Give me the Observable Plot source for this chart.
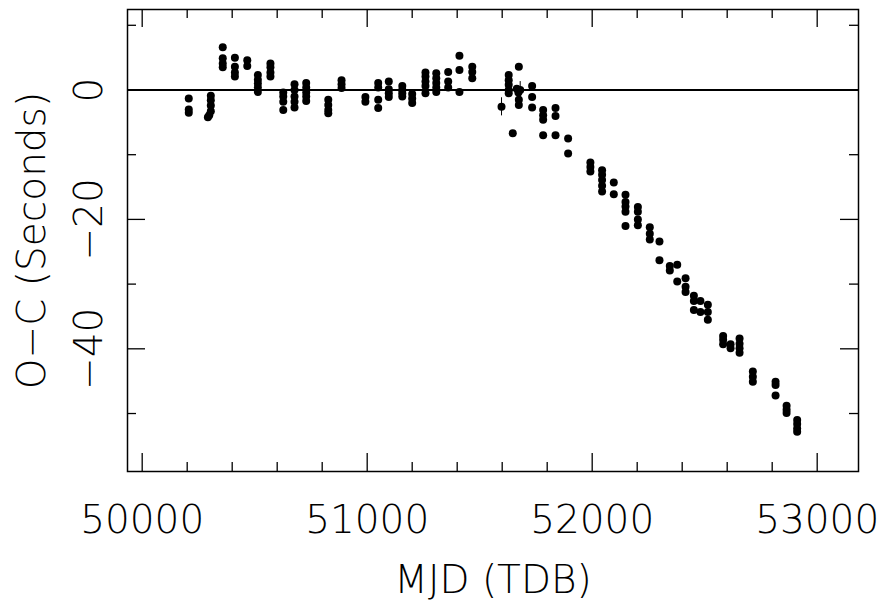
<!DOCTYPE html>
<html><head><meta charset="utf-8">
<script src="https://cdn.jsdelivr.net/npm/d3@7"></script>
<script src="https://cdn.jsdelivr.net/npm/@observablehq/plot@0.6"></script>
<style>body{margin:0;background:#fff}</style>
</head><body><div id="chart"></div>
<script>
// Timing residuals: MJD (TDB) vs O−C (seconds)
const mjd = [
  50207,50207,50207,
  50305,50305,50305,50305,50298,50292,
  50358,50358,50358,50358,
  50412,50412,50412,50412,
  50467,50467,
  50514,50514,50514,50514,50514,
  50570,50570,50570,50570,
  50627,50627,50627,50627,
  50677,50677,50677,50677,50677,
  50729,50729,50729,50729,50729,
  50827,50827,50827,50827,
  50886,50886,50886,
  50992,50992,
  51049,51049,51049,51049,
  51096,51096,51096,51096,
  51156,51156,51156,51156,
  51200,51200,51200,
  51259,51259,51259,51259,51259,
  51307,51307,51307,51307,51307,
  51360,51360,51360,
  51410,51410,51410,
  51467,51467,51467,
  51597,
  51629,51629,51629,51629,51629,
  51647,
  51674,51665,51680,51672,51674,51674,
  51733,51733,51733,
  51782,51782,51782,51782,
  51837,51837,51837,
  51893,51893,
  51992,51992,51992,
  52044,52044,52044,52044,52044,
  52096,52096,
  52148,52148,52148,52148,52148,
  52203,52203,52203,52203,
  52256,52256,52256,
  52299,52299,
  52345,52345,
  52378,52378,
  52415,52415,52415,
  52452,52452,52452,
  52481,52481,
  52514,52514,52514,
  52582,52582,52582,
  52615,52615,
  52655,52655,52655,52655,
  52714,52714,52714,
  52815,52815,52815,
  52864,52864,52864,
  52911,52911,52911,52911
];
const oc = [
  -1.3,-3.0,-3.5,
  -0.9,-1.6,-2.4,-3.3,-3.9,-4.2,
  6.6,4.9,4.1,3.5,
  5.0,3.6,2.7,2.1,
  4.6,3.7,
  2.3,1.6,1.0,0.4,-0.3,
  4.1,3.5,2.7,2.1,
  -0.4,-1.0,-1.8,-3.1,
  0.9,0.0,-1.0,-1.8,-2.7,
  1.1,0.4,-0.4,-1.0,-1.7,
  -1.5,-2.3,-3.1,-3.6,
  1.5,0.9,0.3,
  -1.1,-1.8,
  1.1,0.4,-1.5,-2.8,
  1.3,0.1,-0.5,-1.1,
  0.6,0.0,-0.5,-1.0,
  -0.6,-1.3,-2.0,
  2.7,2.1,1.3,0.6,-0.5,
  2.6,1.8,1.1,0.4,-0.3,
  2.8,1.3,0.4,
  5.3,3.1,-0.3,
  3.6,2.8,1.8,
  -2.6,
  2.3,1.5,0.8,0.0,-0.5,
  -6.7,
  3.6,0.2,0.0,-0.4,-1.5,-2.3,
  0.6,-1.1,-2.7,
  -3.1,-3.9,-4.6,-7.0,
  -2.8,-4.0,-7.0,
  -7.5,-9.8,
  -11.2,-11.9,-12.6,
  -12.4,-13.1,-13.9,-14.8,-15.7,
  -14.3,-16.1,
  -16.2,-17.3,-18.0,-18.8,-21.0,
  -18.1,-18.8,-20.0,-20.9,
  -21.2,-22.2,-23.1,
  -23.4,-26.3,
  -27.2,-27.9,
  -27.0,-29.6,
  -29.1,-30.4,-31.2,
  -31.8,-32.6,-34.0,
  -32.6,-34.3,
  -33.2,-34.3,-35.5,
  -38.0,-38.6,-39.3,
  -39.3,-39.9,
  -38.4,-39.2,-39.9,-40.6,
  -43.5,-44.3,-45.1,
  -45.1,-45.6,-47.2,
  -48.8,-49.4,-49.9,
  -51.0,-51.6,-52.3,-52.8
];
// points with visible error bars
const errMjd = [51597, 51680];
const errOc = [-2.6, 0.0];
const errSize = [1.4, 1.3];

const xMajor = [50000, 51000, 52000, 53000];
const xLabels = ["50000", "51000", "52000", "53000"];
const xMinor = [50200, 50400, 50600, 50800, 51200, 51400, 51600, 51800, 52200, 52400, 52600, 52800];
const yMajor = [0, -20, -40];
const yLabels = ["0", "\u221220", "\u221240"];
const yMinor = [10, -10, -30, -50];
const xTitle = "MJD (TDB)";
const yTitle = "O\u2212C (Seconds)";

const points = mjd.map((m, i) => ({mjd: m, oc: oc[i]}));
const errs = errMjd.map((m, i) => ({mjd: m, oc: errOc[i], e: errSize[i]}));

const W = 878, H = 603, mL = 127, mR = 20, mT = 9, mB = 132;
const fw = W - mL - mR, fh = H - mT - mB;
const big = 18, small = 9;
const font = {fontFamily: "DejaVu Sans", fontWeight: 200, fontSize: 39, fill: "black", textAnchor: "middle", lineAnchor: "middle"};

const chart = Plot.plot({
  width: W, height: H,
  marginLeft: mL, marginRight: mR, marginTop: mT, marginBottom: mB,
  x: {domain: [49934.7, 53183.6], axis: null},
  y: {domain: [-58.96, 12.44], axis: null},
  style: {background: "white", fontFamily: "DejaVu Sans"},
  marks: [
    Plot.ruleY([0], {stroke: "black", strokeWidth: 2}),
    Plot.ruleX(errs, {x: "mjd", y1: d => d.oc - d.e, y2: d => d.oc + d.e, stroke: "black", strokeWidth: 1}),
    Plot.dot(points, {x: "mjd", y: "oc", r: 4, fill: "black", stroke: "none"}),
    // ticks, inward on all four sides
    Plot.tickX(xMajor, {x: d => d, insetTop: fh - big, stroke: "black", strokeWidth: 1.3}),
    Plot.tickX(xMajor, {x: d => d, insetBottom: fh - big, stroke: "black", strokeWidth: 1.3}),
    Plot.tickX(xMinor, {x: d => d, insetTop: fh - small, stroke: "black", strokeWidth: 1.3}),
    Plot.tickX(xMinor, {x: d => d, insetBottom: fh - small, stroke: "black", strokeWidth: 1.3}),
    Plot.tickY(yMajor, {y: d => d, insetRight: fw - big, stroke: "black", strokeWidth: 1.3}),
    Plot.tickY(yMajor, {y: d => d, insetLeft: fw - big, stroke: "black", strokeWidth: 1.3}),
    Plot.tickY(yMinor, {y: d => d, insetRight: fw - small, stroke: "black", strokeWidth: 1.3}),
    Plot.tickY(yMinor, {y: d => d, insetLeft: fw - small, stroke: "black", strokeWidth: 1.3}),
    Plot.frame({stroke: "black", strokeWidth: 1.5}),
    // tick labels
    Plot.text(xMajor, {x: d => d, text: (d, i) => xLabels[i], frameAnchor: "bottom", dy: 49, ...font}),
    Plot.text(yMajor, {y: d => d, text: (d, i) => yLabels[i], frameAnchor: "left", dx: -38, rotate: -90, ...font}),
    // titles
    Plot.text([xTitle], {text: d => d, frameAnchor: "bottom", dy: 109, ...font}),
    Plot.text([yTitle], {text: d => d, frameAnchor: "left", dx: -95, rotate: -90, ...font})
  ]
});
document.getElementById("chart").appendChild(chart);
</script>
</body></html>
